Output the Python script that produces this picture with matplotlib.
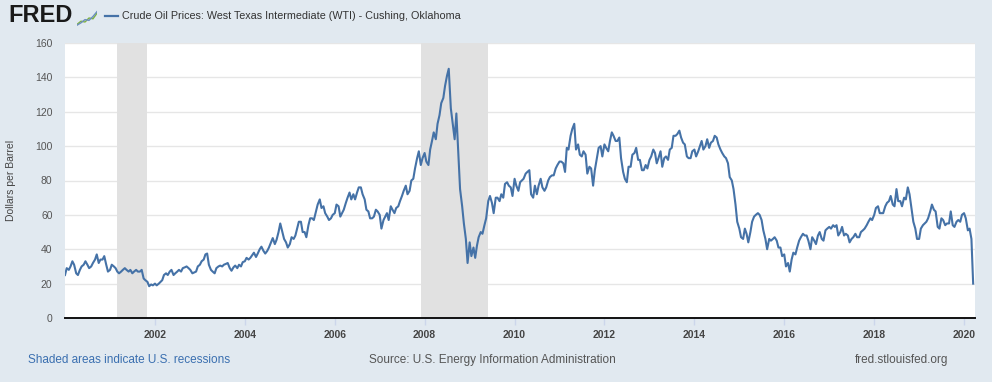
import matplotlib
matplotlib.use("Agg")
import matplotlib.pyplot as plt
import matplotlib.dates as mdates
from matplotlib.lines import Line2D
import pandas as pd
import numpy as np

plt.rcParams['font.family'] = ['Liberation Sans', 'DejaVu Sans']

# ---------------- data (semi-monthly readings, $ per barrel) ----------------
y2000 = [25, 29, 28, 30, 33, 31, 26, 25, 28, 30, 31, 33, 31, 29, 30, 32, 34, 37, 32, 34, 34, 36, 31, 27]
y2001 = [28, 31, 30, 29, 27, 26, 27, 28, 29, 28, 27, 28, 26, 27, 28, 27, 27, 28, 23, 22, 21, 18.5, 19.5, 19]
y2002 = [20, 19, 20, 21, 22, 25, 26, 25, 27, 28, 25, 26, 27, 28, 27, 29, 29.5, 30, 29, 28, 26, 26.5, 27, 30]
y2003 = [31, 33, 34, 37, 37.5, 31, 28, 27, 26, 29, 30, 30.5, 30, 31, 31.5, 32, 29, 27.5, 29.5, 30.5, 29, 31, 30, 32.5]
y2004 = [33, 35, 34, 35, 36.5, 38, 35.5, 37.5, 40, 41.5, 39, 37.5, 39, 41, 44, 46.5, 43, 45.5, 50, 55, 50, 46, 44, 41]
y2005 = [43, 47, 46, 48, 52, 56, 56, 50, 50, 47, 54, 58, 58, 57, 62, 66, 69, 64, 65, 61, 59, 57, 58, 60]
y2006 = [61, 66, 65, 59, 61, 63, 67, 70, 73, 69, 72, 69, 73, 76, 76, 72, 69, 63, 62, 58, 58, 59, 63, 62]
y2007 = [60, 52, 57, 59, 61, 57, 65, 63, 61, 64, 65, 68, 71, 74, 77, 72, 74, 80, 81, 87, 93, 97, 89, 93]
y2008 = [96, 91, 89, 98, 103, 108, 104, 113, 118, 125, 128, 135, 141, 145, 122, 114, 104, 119, 96, 75, 65, 55, 46, 32]
y2009 = [44, 36, 41, 35, 42, 47, 50, 49, 54, 58, 68, 71, 67, 61, 70, 70, 68, 72, 70, 78, 79, 77, 76, 71]
y2010 = [81, 77, 74, 79, 80, 81, 84, 85, 86, 72, 70, 77, 72, 77, 81, 76, 74, 76, 80, 82, 83, 83, 87, 89]
y2011 = [91, 91, 90, 85, 99, 98, 106, 110, 113, 98, 101, 95, 94, 97, 95, 84, 88, 87, 77, 86, 93, 99, 100, 94]
y2012 = [101, 99, 97, 103, 108, 106, 103, 103, 105, 93, 85, 81, 79, 88, 88, 95, 96, 99, 92, 92, 86, 86, 89, 87]
y2013 = [92, 94, 98, 96, 90, 93, 97, 88, 93, 94, 92, 98, 99, 106, 106, 107, 109, 105, 102, 101, 94, 93, 93, 97]
y2014 = [98, 94, 97, 100, 103, 98, 100, 104, 99, 102, 103, 106, 105, 101, 98, 96, 94, 93, 90, 82, 80, 75, 66, 56]
y2015 = [52, 47, 46, 52, 49, 44, 50, 56, 59, 60, 61, 60, 57, 51, 46, 40, 46, 45, 46, 47, 45, 41, 41, 36]
y2016 = [37, 30, 32, 27, 34, 38, 37, 41, 45, 47, 49, 48, 48, 45, 40, 47, 45, 43, 48, 50, 46, 45, 51, 52]
y2017 = [53, 52, 54, 53, 54, 48, 50, 53, 48, 49, 48, 44, 46, 47, 49, 47, 47, 50, 51, 52, 54, 56, 58, 57]
y2018 = [60, 64, 65, 61, 61, 61, 65, 67, 68, 71, 66, 65, 75, 68, 68, 65, 70, 69, 76, 72, 63, 56, 52, 46]
y2019 = [46, 52, 54, 55, 56, 58, 62, 66, 63, 62, 53, 52, 58, 57, 54, 55, 55, 62, 54, 53, 56, 57, 56, 60]
y2020 = [61, 58, 51, 52, 46, 20]

prices = (y2000 + y2001 + y2002 + y2003 + y2004 + y2005 + y2006 + y2007 + y2008 + y2009 +
          y2010 + y2011 + y2012 + y2013 + y2014 + y2015 + y2016 + y2017 + y2018 + y2019 + y2020)
dates = pd.date_range("2000-01-01", periods=len(prices), freq="SMS")

recession_starts = ["2001-03-01", "2007-12-01"]
recession_ends = ["2001-11-01", "2009-06-01"]

series_label = "Crude Oil Prices: West Texas Intermediate (WTI) - Cushing, Oklahoma"
y_label = "Dollars per Barrel"
y_ticks = [0, 20, 40, 60, 80, 100, 120, 140, 160]

# ---------------- figure ----------------
BG = "#e1e9f0"
LINE = "#4572a7"
W, H = 992, 382
fig = plt.figure(figsize=(W / 100, H / 100), dpi=100, facecolor=BG)
ax = fig.add_axes([65 / W, 1 - 318 / H, 910 / W, 275 / H])
ax.set_facecolor("white")

for s, e in zip(recession_starts, recession_ends):
    ax.axvspan(pd.Timestamp(s), pd.Timestamp(e), color="#e1e1e1", lw=0, zorder=1)

ax.plot(dates, prices, color=LINE, lw=1.5, zorder=3, solid_joinstyle="round")

ax.set_ylim(0, 160)
ax.set_xlim(pd.Timestamp("2000-01-01"), pd.Timestamp("2020-03-30"))
ax.set_yticks(y_ticks)
ax.yaxis.grid(True, color="#e6e6e6", lw=1)
ax.set_axisbelow(True)

ax.set_xticks([pd.Timestamp(f"{y}-01-01") for y in range(2002, 2021, 2)])
ax.xaxis.set_major_formatter(mdates.DateFormatter("%Y"))

for sp in ["top", "right", "left"]:
    ax.spines[sp].set_visible(False)
ax.spines["bottom"].set_color("#111111")
ax.spines["bottom"].set_linewidth(1.4)
ax.spines["bottom"].set_zorder(4)

ax.tick_params(axis="x", length=5, width=1, color="#ccd6eb", pad=4,
               labelsize=7.5, labelcolor="#444444")
ax.tick_params(axis="y", length=0, pad=9, labelsize=7.5, labelcolor="#555555")
for lab in ax.get_xticklabels():
    lab.set_fontweight("bold")

ax.set_ylabel(y_label, fontsize=7.5, color="#444444")
ax.yaxis.set_label_coords(-49 / 910, 0.5)

# ---------------- header ----------------
fig.text(8 / W, 1 - 16 / H, "FRED", fontsize=17, fontweight="bold", color="#1a1a1a",
         va="center", ha="left")
icon = fig.add_axes([77 / W, 1 - 26 / H, 20 / W, 16 / H])
icon.set_xlim(0, 10)
icon.set_ylim(0, 10)
icon.axis("off")
icon_x = [0, 2, 4, 6, 8, 10]
icon_g = [1, 3, 2.5, 5, 4.5, 8]
icon_b = [0.5, 2, 4, 3.5, 6, 9]
icon.plot(icon_x, icon_g, color="#7fb23f", lw=1)
icon.plot(icon_x, icon_b, color="#6c8ebf", lw=1)

fig.add_artist(Line2D([105 / W, 118 / W], [1 - 16 / H, 1 - 16 / H], color=LINE, lw=1.6))
fig.text(122 / W, 1 - 16 / H, series_label, fontsize=7.75, color="#333333",
         va="center", ha="left")

# ---------------- footer ----------------
fig.text(28 / W, 1 - 360 / H, "Shaded areas indicate U.S. recessions", fontsize=8.5,
         color="#3a6fb0", va="center", ha="left")
fig.text(492 / W, 1 - 360 / H, "Source: U.S. Energy Information Administration", fontsize=8.5,
         color="#555555", va="center", ha="center")
fig.text(948 / W, 1 - 360 / H, "fred.stlouisfed.org", fontsize=8.5,
         color="#555555", va="center", ha="right")

fig.savefig("out.png", dpi=100, facecolor=BG)
